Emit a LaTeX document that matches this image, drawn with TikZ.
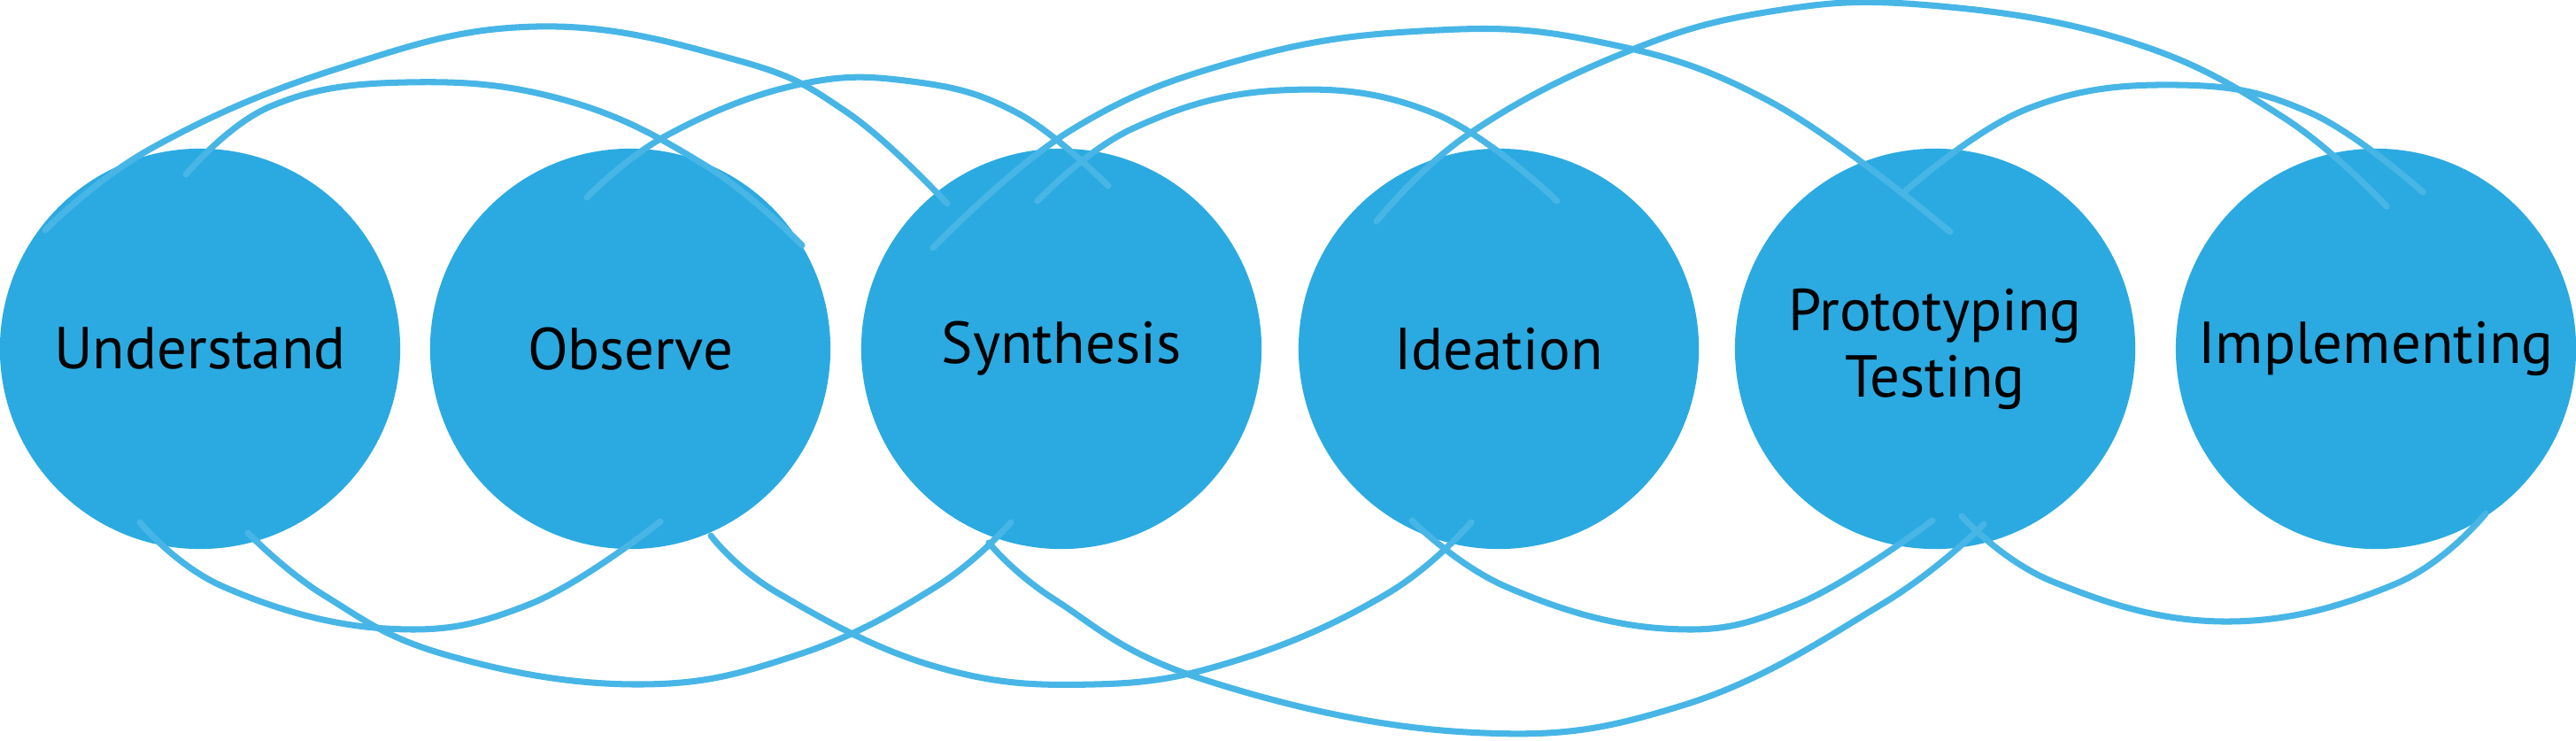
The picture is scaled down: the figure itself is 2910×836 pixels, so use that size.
\documentclass[tikz,border=0pt]{standalone}
\usepackage{fontspec}
\setmainfont{PT Sans}
\definecolor{stagefill}{HTML}{2BAAE1}
\definecolor{loop}{HTML}{47B6E6}

\begin{document}
\begin{tikzpicture}[x=0.01cm, y=-0.01cm,
    stage/.style={circle, fill=stagefill, minimum size=4.52cm, inner sep=0, align=center,
      font=\fontsize{19}{21.3}\selectfont},
    brush/.style={draw=loop, line width=2pt, line cap=round}]
\useasboundingbox (0,0) rectangle (2910,836);
\node[stage] (und) at (226,394) {Understand};
\node[stage] (obs) at (712,394) {Observe};
\node[stage] (syn) at (1199,394) {Synthesis};
\node[stage] (ide) at (1693,394) {Ideation};
\node[stage] (pro) at (2186,394) {Prototyping\\Testing};
\node[stage] (imp) at (2684,394) {Implementing};
% upper loops
\draw[brush] plot[smooth, tension=0.7] coordinates {(51,260) (172,167) (383,77) (606,30) (829,67) (957,127) (1070,230)};
\draw[brush] plot[smooth, tension=0.7] coordinates {(210,197) (306,120) (459,93) (638,113) (797,187) (906,277)};
\draw[brush] plot[smooth, tension=0.7] coordinates {(663,223) (753,153) (900,96) (1030,92) (1150,128) (1252,210)};
\draw[brush] plot[smooth, tension=0.7] coordinates {(1054,280) (1210,147) (1400,68) (1606,35) (1800,46) (2000,115) (2203,262)};
\draw[brush] plot[smooth, tension=0.7] coordinates {(1172,227) (1280,145) (1446,102) (1620,128) (1759,227)};
\draw[brush] plot[smooth, tension=0.7] coordinates {(1555,250) (1657,153) (1829,62) (2000,13) (2180,6) (2406,47) (2580,133) (2696,233)};
\draw[brush] plot[smooth, tension=0.7] coordinates {(2151,217) (2290,123) (2460,96) (2609,127) (2737,217)};
% lower loops
\draw[brush] plot[smooth, tension=0.7] coordinates {(158,590) (253,663) (436,710) (597,683) (746,589)};
\draw[brush] plot[smooth, tension=0.7] coordinates {(280,602) (367,673) (505,740) (720,773) (900,740) (1057,663) (1142,590)};
\draw[brush] plot[smooth, tension=0.7] coordinates {(803,605) (879,670) (1057,753) (1236,773) (1400,745) (1568,670) (1662,590)};
\draw[brush] plot[smooth, tension=0.7] coordinates {(1117,613) (1191,677) (1358,767) (1657,827) (1900,797) (2125,683) (2241,592)};
\draw[brush] plot[smooth, tension=0.7] coordinates {(1595,588) (1702,663) (1880,710) (2029,683) (2183,588)};
\draw[brush] plot[smooth, tension=0.7] coordinates {(2216,583) (2319,657) (2512,702) (2705,660) (2808,580)};
\end{tikzpicture}
\end{document}
